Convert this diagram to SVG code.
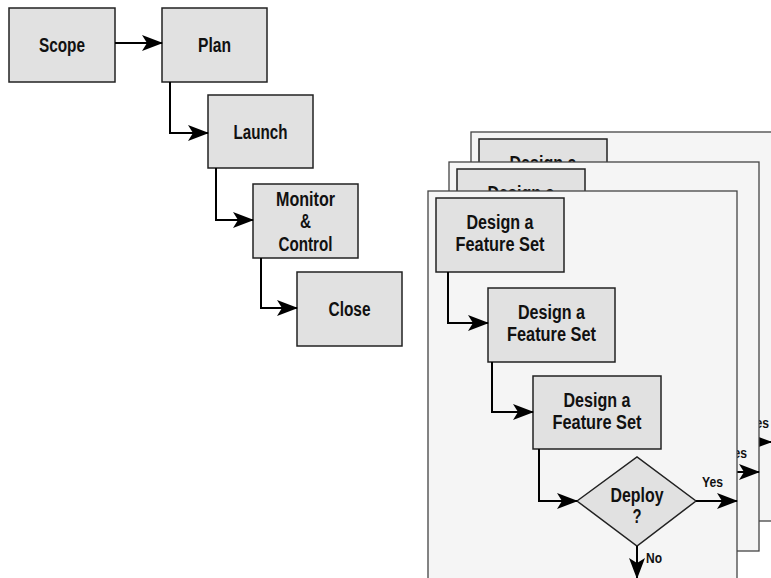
<svg xmlns="http://www.w3.org/2000/svg" width="771" height="578" viewBox="0 0 771 578">
<style>
.box{fill:#e1e1e1;stroke:#222;stroke-width:1.5}
.frame{fill:#f5f5f5;stroke:#444;stroke-width:1.3}
.t{font-family:"Liberation Sans",Arial,sans-serif;font-weight:bold;font-size:19.5px;fill:#111;text-anchor:middle}
.s{font-family:"Liberation Sans",Arial,sans-serif;font-weight:bold;font-size:15px;fill:#111}
.c{fill:none;stroke:#000;stroke-width:2;marker-end:url(#ah)}
</style>
<defs>
<marker id="ah" markerUnits="userSpaceOnUse" markerWidth="24" markerHeight="18" viewBox="-22 -9 24 18" refX="0" refY="0" orient="auto">
<path d="M1,0 L-20,-8 L-15,0 L-20,8 Z" fill="#000"/>
</marker>
</defs>
<rect width="771" height="578" fill="#fff"/>

<g id="scope"><rect class="box" x="9" y="8" width="106" height="74"/><text class="t" x="62" y="52" textLength="46" lengthAdjust="spacingAndGlyphs">Scope</text></g>
<g id="plan"><rect class="box" x="162" y="8" width="105" height="74"/><text class="t" x="214.5" y="52" textLength="33" lengthAdjust="spacingAndGlyphs">Plan</text></g>
<g id="launch"><rect class="box" x="208" y="95" width="105" height="73"/><text class="t" x="260.5" y="139" textLength="54" lengthAdjust="spacingAndGlyphs">Launch</text></g>
<g id="monitor"><rect class="box" x="253" y="184" width="105" height="74"/><text class="t" x="305.5" y="206" textLength="59" lengthAdjust="spacingAndGlyphs">Monitor</text><text class="t" x="305.5" y="228" textLength="11" lengthAdjust="spacingAndGlyphs">&amp;</text><text class="t" x="305.5" y="251" textLength="54" lengthAdjust="spacingAndGlyphs">Control</text></g>
<g id="close"><rect class="box" x="297" y="272" width="105" height="74"/><text class="t" x="349.5" y="316" textLength="42" lengthAdjust="spacingAndGlyphs">Close</text></g>

<g id="frame-back">
<rect class="frame" x="471" y="132" width="310" height="389"/>
<rect class="box" x="479" y="139" width="128" height="74"/>
<text class="t" x="543" y="170" textLength="67" lengthAdjust="spacingAndGlyphs">Design a</text>
<text class="s" x="748" y="428" textLength="21" lengthAdjust="spacingAndGlyphs">Yes</text>
<path class="c" d="M739,442 H771"/>
</g>
<g id="frame-middle">
<rect class="frame" x="449" y="162" width="310" height="389"/>
<rect class="box" x="457" y="169" width="128" height="74"/>
<text class="t" x="521" y="200" textLength="67" lengthAdjust="spacingAndGlyphs">Design a</text>
<text class="s" x="726" y="458" textLength="21" lengthAdjust="spacingAndGlyphs">Yes</text>
<path class="c" d="M717,472 H759"/>
</g>
<g id="frame-front">
<rect class="frame" x="428" y="191" width="309" height="395"/>
</g>
<g id="feature1"><rect class="box" x="436" y="198" width="128" height="74"/><text class="t" x="500" y="229" textLength="67" lengthAdjust="spacingAndGlyphs">Design a</text><text class="t" x="500" y="251" textLength="89" lengthAdjust="spacingAndGlyphs">Feature Set</text></g>
<g id="feature2"><rect class="box" x="488" y="288" width="127" height="74"/><text class="t" x="551.5" y="319" textLength="67" lengthAdjust="spacingAndGlyphs">Design a</text><text class="t" x="551.5" y="341" textLength="89" lengthAdjust="spacingAndGlyphs">Feature Set</text></g>
<g id="feature3"><rect class="box" x="533" y="376" width="128" height="73"/><text class="t" x="597" y="407" textLength="67" lengthAdjust="spacingAndGlyphs">Design a</text><text class="t" x="597" y="429" textLength="89" lengthAdjust="spacingAndGlyphs">Feature Set</text></g>
<g id="deploy"><polygon class="box" points="577,501 637,457 696,501 637,546"/><text class="t" x="637" y="502" textLength="53" lengthAdjust="spacingAndGlyphs">Deploy</text><text class="t" x="637" y="523" textLength="9" lengthAdjust="spacingAndGlyphs">?</text></g>

<g id="connectors">
<path class="c" d="M115,43 H162"/>
<path class="c" d="M170,82 V133 H208"/>
<path class="c" d="M216,168 V220 H253"/>
<path class="c" d="M261,258 V308 H297"/>
<path class="c" d="M448,272 V323 H488"/>
<path class="c" d="M492,362 V412 H533"/>
<path class="c" d="M539,449 V501 H577"/>
<path class="c" d="M696,501 H737"/>
<path class="c" d="M637,546 V578"/>
<text class="s" x="702" y="487" textLength="21" lengthAdjust="spacingAndGlyphs">Yes</text>
<text class="s" x="646" y="563" textLength="16" lengthAdjust="spacingAndGlyphs">No</text>
</g>
</svg>
